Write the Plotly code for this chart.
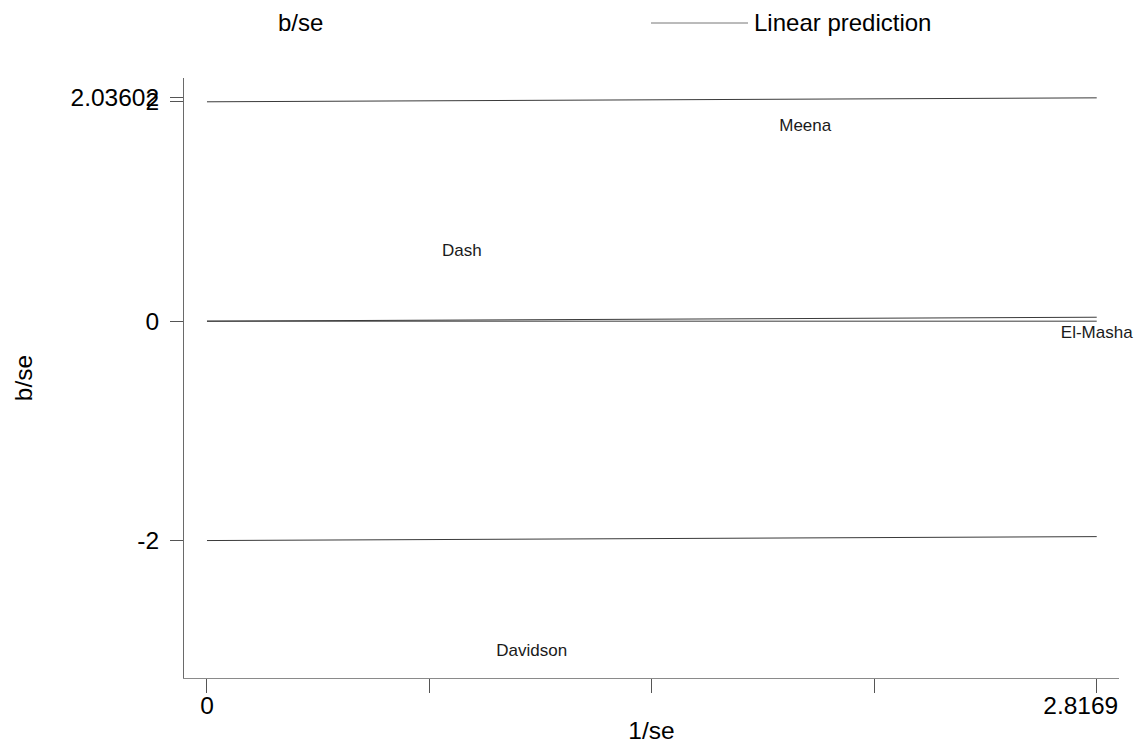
import plotly.graph_objects as go

# Galbraith plot: standardised effect (b/se) against precision (1/se)
studies = ["Meena", "Dash", "El-Masha", "Davidson"]
precision = [1.894, 0.8066, 2.8169, 1.028]       # 1/se
z_score = [1.772, 0.632, -0.11, -3.011]          # b/se

# fitted line through the origin and the +/-2 bands, evaluated at the x-range ends
line_x = [0.0, 2.8169]
fit_y = [0.0, 0.03602]
upper_y = [2.0, 2.03602]
lower_y = [-2.0, -1.96398]
zero_y = [0.0, 0.0]

x_ticks = [0.0, 0.704225, 1.40845, 2.112675, 2.8169]
x_ticktext = ["0", "", "", "", ""]
x_max_tick = [2.8169]
x_max_text = ["2.8169"]
y_ticks = [-2, 0, 2, 2.03602]
y_ticktext = ["-2", "0", "2", "2.03602"]

X_RANGE = [-0.0728, 2.8874]
FONT = "Arial, Liberation Sans, sans-serif"
AXIS_FS = 24.5
LINE_COLOR = "#3a3a3a"
W, H = 1138, 744
M_L, M_R, M_T, M_B = 184, 19, 78, 66
PW, PH = W - M_L - M_R, H - M_T - M_B


def px_x(px):
    return (px - M_L) / PW


def px_y(py):
    return (H - M_B - py) / PH


fig = go.Figure()

for ys in (upper_y, zero_y, fit_y, lower_y):
    fig.add_trace(go.Scatter(
        x=line_x, y=ys, mode="lines",
        line=dict(color=LINE_COLOR, width=1),
        showlegend=False, hoverinfo="skip",
    ))

fig.add_trace(go.Scatter(
    x=precision, y=z_score, mode="text", text=studies,
    textposition="middle center", cliponaxis=False,
    textfont=dict(family=FONT, size=17, color="#1a1a1a"),
    showlegend=False,
))

# legend row above the plot
fig.add_annotation(
    x=px_x(300), y=px_y(22), xref="paper", yref="paper",
    text="b/se", showarrow=False, xanchor="center", yanchor="middle",
    font=dict(family=FONT, size=24, color="#000"),
)
fig.add_shape(
    type="line", xref="paper", yref="paper",
    x0=px_x(651), x1=px_x(748), y0=px_y(23), y1=px_y(23),
    line=dict(color="#777777", width=1),
)
fig.add_annotation(
    x=px_x(752), y=px_y(22), xref="paper", yref="paper",
    text="Linear prediction", showarrow=False, xanchor="left", yanchor="middle",
    font=dict(family=FONT, size=24, color="#000"),
)

fig.update_layout(
    width=W, height=H,
    margin=dict(l=M_L, r=M_R, t=M_T, b=M_B, pad=0),
    paper_bgcolor="white", plot_bgcolor="white",
    font=dict(family=FONT, size=AXIS_FS, color="#000"),
    showlegend=False,
    xaxis=dict(
        range=X_RANGE, showgrid=False, zeroline=False, automargin=False,
        showline=True, linecolor="#8a8a8a", linewidth=1,
        ticks="outside", ticklen=14, tickcolor="#555555", tickwidth=1,
        tickvals=x_ticks, ticktext=x_ticktext,
        tickfont=dict(family=FONT, size=AXIS_FS),
        ticklabelstandoff=-8,
        title=dict(text="1/se", font=dict(family=FONT, size=AXIS_FS), standoff=4),
    ),
    # second bottom axis carrying only the end label, nudged to sit inside the frame
    xaxis2=dict(
        range=X_RANGE, overlaying="x", side="bottom", matches="x",
        showgrid=False, zeroline=False, showline=False, automargin=False,
        ticks="outside", ticklen=14, tickcolor="rgba(0,0,0,0)",
        tickvals=x_max_tick, ticktext=x_max_text,
        tickfont=dict(family=FONT, size=AXIS_FS),
        ticklabelstandoff=-8, ticklabelshift=-16,
    ),
    yaxis=dict(
        range=[-3.253, 2.217], showgrid=False, zeroline=False, automargin=False,
        showline=True, linecolor="#6a6a6a", linewidth=1,
        ticks="outside", ticklen=13, tickcolor="#555555", tickwidth=1,
        tickvals=y_ticks, ticktext=y_ticktext,
        tickfont=dict(family=FONT, size=AXIS_FS),
        ticklabelstandoff=6,
        title=dict(text="b/se", font=dict(family=FONT, size=AXIS_FS), standoff=30),
    ),
)

# invisible trace that activates the second x axis
fig.add_trace(go.Scatter(
    x=[x_max_tick[0]], y=[0], xaxis="x2", mode="markers",
    marker=dict(opacity=0), showlegend=False, hoverinfo="skip",
))

fig.write_html("out.html")
